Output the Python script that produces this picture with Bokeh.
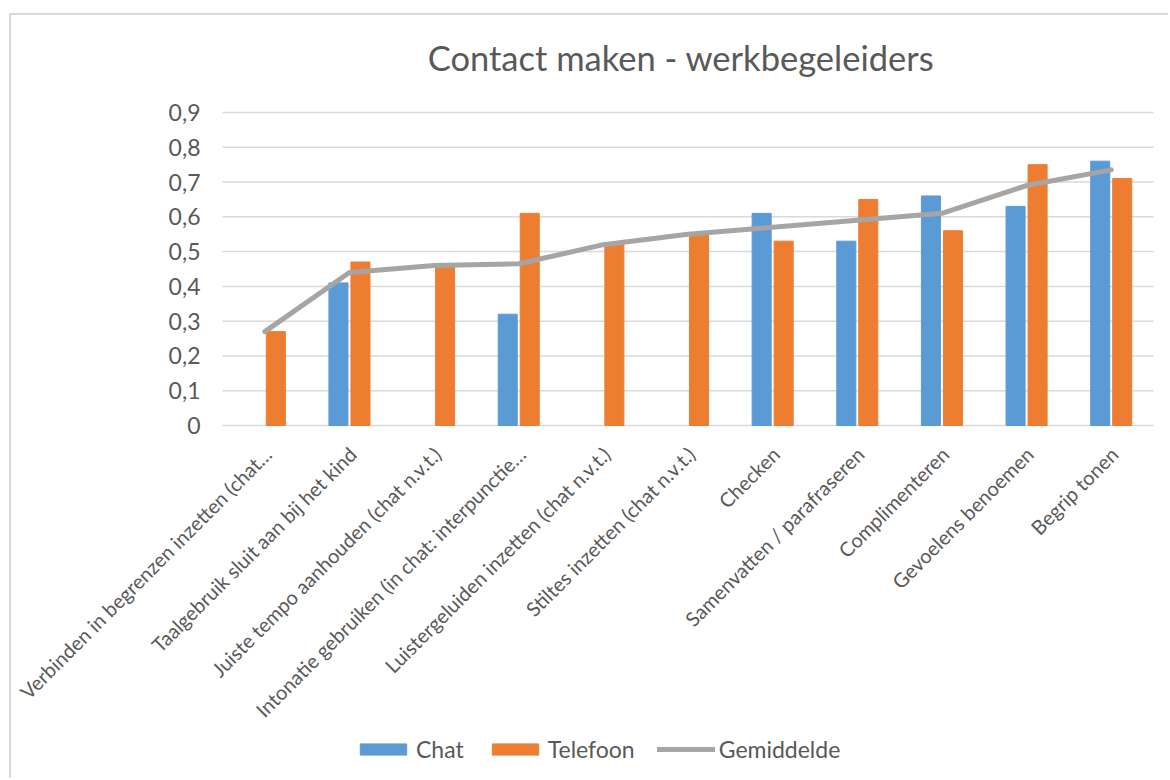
from bokeh.plotting import figure
from bokeh.models import ColumnDataSource, Legend, LegendItem
from bokeh.core.properties import value
from bokeh.transform import dodge
from bokeh.embed import file_html
from bokeh.resources import INLINE
import math

title_text = "Contact maken - werkbegeleiders"
categories = [
    "Verbinden in begrenzen inzetten (chat…",
    "Taalgebruik sluit aan bij het kind",
    "Juiste tempo aanhouden (chat n.v.t.)",
    "Intonatie gebruiken (in chat: interpunctie…",
    "Luistergeluiden inzetten (chat n.v.t.)",
    "Stiltes inzetten (chat n.v.t.)",
    "Checken",
    "Samenvatten / parafraseren",
    "Complimenteren",
    "Gevoelens benoemen",
    "Begrip tonen",
]
chat = [None, 0.41, None, 0.32, None, None, 0.61, 0.53, 0.66, 0.63, 0.76]
telefoon = [0.27, 0.47, 0.46, 0.61, 0.52, 0.55, 0.53, 0.65, 0.56, 0.75, 0.71]
gemiddelde = [0.27, 0.44, 0.46, 0.465, 0.52, 0.55, 0.57, 0.59, 0.61, 0.69, 0.735]
y_ticks = [0, 0.1, 0.2, 0.3, 0.4, 0.5, 0.6, 0.7, 0.8, 0.9]
y_tick_labels = ["0", "0,1", "0,2", "0,3", "0,4", "0,5", "0,6", "0,7", "0,8", "0,9"]

TEXT = "#595959"
FONT = "Lato"
n = len(categories)

# category slot i occupies x in [i, i+1]; the frame spans the whole figure so that the
# slanted labels, title and legend (drawn in data space) are not clipped.
pos = [i + 0.5 for i in range(n)]

p = figure(
    x_range=(-2.4929, 11.2004), y_range=(-1.0208, 1.1789),
    width=1159, height=765, output_backend="svg", toolbar_location=None,
    min_border_left=0, min_border_right=0, min_border_top=0, min_border_bottom=0,
)
p.styles = {"margin-left": "9px", "margin-top": "13px",
            "border-left": "2px solid #D9D9D9", "border-top": "2px solid #D9D9D9"}
p.outline_line_color = None
p.xaxis.visible = False
p.yaxis.visible = False
p.xgrid.visible = False
p.ygrid.visible = False

# gridlines and value labels
src_grid = ColumnDataSource(data=dict(y=y_ticks, x0=[0] * len(y_ticks), x1=[n] * len(y_ticks),
                                      lab=y_tick_labels))
p.segment(x0="x0", x1="x1", y0="y", y1="y", source=src_grid, line_color="#D9D9D9", line_width=1.5)
p.text(x="x0", y="y", text="lab", source=src_grid, x_offset=-22, text_align="right",
       text_baseline="middle", text_font=value(FONT), text_font_size="23px", text_color=TEXT)

chat_pos = [x for x, v in zip(pos, chat) if v is not None]
chat_vals = [v for v in chat if v is not None]
src_chat = ColumnDataSource(data=dict(x=chat_pos, val=chat_vals))
src_tel = ColumnDataSource(data=dict(x=pos, val=telefoon))
src_avg = ColumnDataSource(data=dict(x=pos, val=gemiddelde))
src_lab = ColumnDataSource(data=dict(x=pos, y=[y_ticks[0]] * n, txt=categories))
src_title = ColumnDataSource(data=dict(x=[n / 2], y=[y_ticks[-1]], txt=[title_text]))

r_chat = p.vbar(x=dodge("x", -0.13), top="val", width=0.225,
                source=src_chat, fill_color="#5B9BD5", line_color="#5B9BD5")
r_tel = p.vbar(x=dodge("x", 0.13), top="val", width=0.225,
               source=src_tel, fill_color="#ED7D31", line_color="#ED7D31")
r_avg = p.line(x="x", y="val", source=src_avg, line_color="#A5A5A5", line_width=5,
               line_cap="round", line_join="round")

# category labels, slanted 45 degrees, ending at each category
p.text(x="x", y="y", text="txt", source=src_lab, angle=math.pi / 4,
       x_offset=3, y_offset=25, text_align="right", text_baseline="alphabetic",
       text_font=value(FONT), text_font_size="20px", text_color=TEXT)

# chart title
p.text(x="x", y="y", text="txt", source=src_title, x_offset=-7, y_offset=-55,
       text_align="center", text_baseline="middle",
       text_font=value(FONT), text_font_size="34.5px", text_color=TEXT)

legend = Legend(
    items=[LegendItem(label="Chat", renderers=[r_chat]),
           LegendItem(label="Telefoon", renderers=[r_tel]),
           LegendItem(label="Gemiddelde", renderers=[r_avg])],
    orientation="horizontal", location=(343, 17),
    glyph_width=58, glyph_height=14, label_standoff=4, spacing=22,
    label_text_font=FONT, label_text_font_size="23px", label_text_color=TEXT,
    border_line_color=None, background_fill_alpha=0, padding=0, margin=0,
)
p.add_layout(legend)

open("out.html", "w").write(file_html(p, INLINE))
